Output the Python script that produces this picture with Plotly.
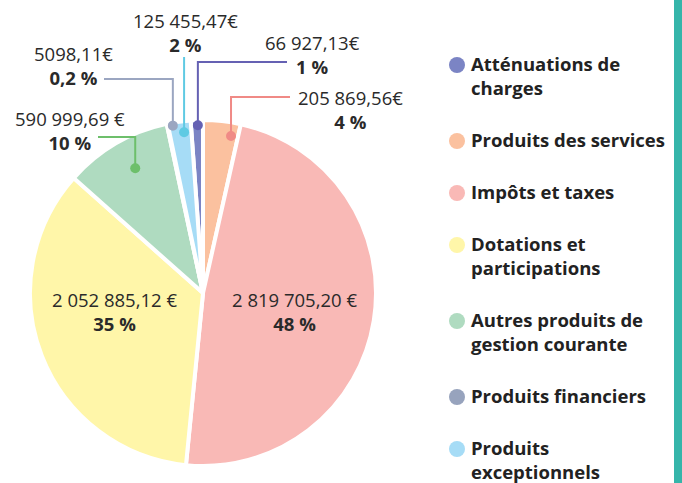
import math
import plotly.graph_objects as go

# ---------------- data ----------------
categories = ["Atténuations de charges", "Produits des services", "Impôts et taxes",
              "Dotations et participations", "Autres produits de gestion courante",
              "Produits financiers", "Produits exceptionnels"]
legend_labels = ["Atténuations de<br>charges", "Produits des services", "Impôts et taxes",
                 "Dotations et<br>participations", "Autres produits de<br>gestion courante",
                 "Produits financiers", "Produits<br>exceptionnels"]
values = [66927.13, 205869.56, 2819705.20, 2052885.12, 590999.69, 5098.11, 125455.47]
value_labels = ["66 927,13€", "205 869,56€", "2 819 705,20 €", "2 052 885,12 €",
                "590 999,69 €", "5098,11€", "125 455,47€"]
percent_labels = ["1 %", "4 %", "48 %", "35 %", "10 %", "0,2 %", "2 %"]

# ---------------- style ----------------
slice_colors = ["#7b84c4", "#fbc19f", "#f9b9b6", "#fff6a9", "#afdbc0", "#97a3bd", "#a6dcf6"]
leader_colors = ["#6561b3", "#f08a86", None, None, "#6dbf6b", "#9ba6c1", "#5fcae3"]
W, H = 682, 483
CX, CY, R = 203, 293, 173  # pie centre / radius in pixels
FONT = "Open Sans"
TXT = "#2a2a2a"
LEG_FONT = 18.5
LEG_LINE = 23.5    # px per text line in legend
LEG_GAP = 28       # extra px between legend items
LEG_TOP = 65       # centre of first legend line
LEG_DOT_X, LEG_TEXT_X = 457, 469

# label layout (px): text centre, elbow y, elbow end x, dot angle nudge, dot radius fraction
label_layout = {
    0: dict(tx=312, ty=54, ey=62, ex=287, nudge=0.3, rf=0.97),
    1: dict(tx=350, ty=109, ey=97, ex=290, nudge=3.8, rf=0.922),
    2: dict(tx=294, ty=311),
    3: dict(tx=114, ty=311),
    4: dict(tx=70, ty=130, ey=137, ex=98, nudge=1.75, rf=0.821),
    5: dict(tx=73, ty=65, ey=79, ex=104, nudge=1.75, rf=0.983),
    6: dict(tx=185, ty=32, ey=57, ex=None, nudge=1.25, rf=0.936),
}


def px(sx):
    return sx / W


def py(sy):
    return 1 - sy / H


total = sum(values)
rotation = -values[0] / total * 360.0

fig = go.Figure()
fig.add_trace(go.Pie(
    labels=categories, values=values, sort=False, direction="clockwise",
    rotation=rotation, textinfo="none", hoverinfo="none",
    marker=dict(colors=slice_colors, line=dict(color="white", width=4)),
    domain=dict(x=[px(CX - R), px(CX + R)], y=[py(CY + R), py(CY - R)]),
    showlegend=False,
))
# invisible trace that keeps a pixel-scaled cartesian frame for labels / leader lines
fig.add_trace(go.Scatter(x=[None], y=[None], mode="markers", showlegend=False,
                         hoverinfo="skip", xaxis="x", yaxis="y"))

shapes = []
annotations = []
start = rotation
for i, v in enumerate(values):
    span = v / total * 360.0
    mid = start + span / 2
    start += span
    cfg = label_layout[i]
    annotations.append(dict(
        x=cfg["tx"], y=cfg["ty"], xref="x", yref="y", showarrow=False,
        text=f"{value_labels[i]}<br><b>{percent_labels[i]}</b>",
        align="center", xanchor="center", yanchor="middle",
        font=dict(family=FONT, size=18.5, color=TXT),
    ))
    if leader_colors[i] is None:
        continue
    ang = math.radians(mid + cfg["nudge"])
    dx = CX + cfg["rf"] * R * math.sin(ang)
    dy = CY - cfg["rf"] * R * math.cos(ang)
    col = leader_colors[i]
    if cfg["ex"] is None:
        path = f"M {dx},{dy} L {dx},{cfg['ey']}"
    else:
        path = f"M {dx},{dy} L {dx},{cfg['ey']} L {cfg['ex']},{cfg['ey']}"
    shapes.append(dict(type="path", path=path, xref="x", yref="y",
                       line=dict(color=col, width=2), layer="above"))
    shapes.append(dict(type="circle", xref="x", yref="y", x0=dx - 5, x1=dx + 5,
                       y0=dy - 5, y1=dy + 5, fillcolor=col, line=dict(width=0),
                       layer="above"))

# legend: coloured circle + bold category name
ly = LEG_TOP
for lab, col in zip(legend_labels, slice_colors):
    n_lines = lab.count("<br>") + 1
    shapes.append(dict(type="circle", xref="x", yref="y",
                       x0=LEG_DOT_X - 8, x1=LEG_DOT_X + 8, y0=ly - 8, y1=ly + 8,
                       fillcolor=col, line=dict(width=0), layer="above"))
    annotations.append(dict(
        x=LEG_TEXT_X, y=ly - LEG_LINE / 2 - 4, xref="x", yref="y", showarrow=False,
        text=f"<b>{lab}</b>", align="left", xanchor="left", yanchor="top",
        font=dict(family=FONT, size=LEG_FONT, color="#222222"),
    ))
    ly += n_lines * 24 + LEG_GAP

# teal bar at right edge
shapes.append(dict(type="rect", xref="paper", yref="paper", x0=px(674), x1=1.0, y0=0, y1=1,
                   fillcolor="#35b5aa", line=dict(width=0), layer="above"))

fig.update_layout(
    width=W, height=H, margin=dict(l=0, r=0, t=0, b=0),
    paper_bgcolor="white", plot_bgcolor="rgba(0,0,0,0)",
    xaxis=dict(range=[0, W], visible=False, fixedrange=True),
    yaxis=dict(range=[H, 0], visible=False, fixedrange=True),
    shapes=shapes, annotations=annotations,
    showlegend=False, hovermode=False,
    font=dict(family=FONT),
)

fig.write_html(
    "out.html",
    config={"displayModeBar": False, "staticPlot": True},
    post_script=("document.body.style.margin='0px';"
                 "document.body.style.overflow='hidden';"
                 "document.documentElement.style.overflow='hidden';"),
)
